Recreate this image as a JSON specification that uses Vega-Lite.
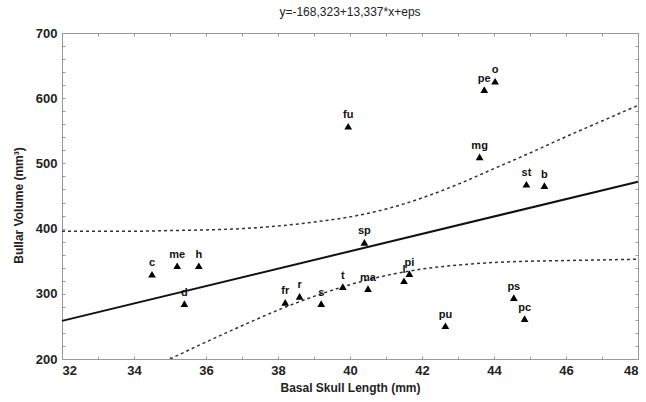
{
  "$schema": "https://vega.github.io/schema/vega-lite/v6.json",
  "width": 576,
  "height": 326,
  "autosize": {"type": "none"},
  "padding": {"left": 62, "top": 33, "right": 8, "bottom": 43},
  "background": "white",
  "title": {"text": "y=-168,323+13,337*x+eps", "fontSize": 12, "fontWeight": "normal", "font": "Liberation Sans", "color": "#222", "offset": 8, "anchor": "middle"},
  "config": {
    "view": {"stroke": "#999999", "strokeWidth": 1},
    "axis": {"grid": false, "domainColor": "#999999", "tickColor": "#999999", "tickWidth": 1, "labelFont": "Liberation Sans", "labelFontWeight": "bold", "labelColor": "#222", "titleFont": "Liberation Sans", "titleFontWeight": "bold", "titleColor": "#222"}
  },
  "datasets": {
    "pts": [
      {"sp": "c", "x": 34.5, "y": 330},
      {"sp": "me", "x": 35.2, "y": 343},
      {"sp": "h", "x": 35.8, "y": 343},
      {"sp": "d", "x": 35.4, "y": 285},
      {"sp": "fr", "x": 38.2, "y": 287},
      {"sp": "r", "x": 38.6, "y": 296},
      {"sp": "s", "x": 39.2, "y": 285},
      {"sp": "t", "x": 39.8, "y": 311},
      {"sp": "ma", "x": 40.5, "y": 308},
      {"sp": "l", "x": 41.5, "y": 320},
      {"sp": "pi", "x": 41.65, "y": 331},
      {"sp": "pu", "x": 42.65, "y": 251},
      {"sp": "ps", "x": 44.55, "y": 294},
      {"sp": "pc", "x": 44.85, "y": 262},
      {"sp": "sp", "x": 40.4, "y": 379},
      {"sp": "fu", "x": 39.95, "y": 557},
      {"sp": "mg", "x": 43.6, "y": 510},
      {"sp": "st", "x": 44.9, "y": 468},
      {"sp": "b", "x": 45.4, "y": 466},
      {"sp": "pe", "x": 43.73, "y": 613},
      {"sp": "o", "x": 44.03, "y": 626}
    ],
    "fit": [
      {"x": 32, "y": 258.5},
      {"x": 48, "y": 471.9}
    ],
    "band": [
      {"x": 32, "bound": "upper", "y": 396},
      {"x": 33, "bound": "upper", "y": 396},
      {"x": 34, "bound": "upper", "y": 396},
      {"x": 35, "bound": "upper", "y": 397},
      {"x": 36, "bound": "upper", "y": 398},
      {"x": 37, "bound": "upper", "y": 400},
      {"x": 38, "bound": "upper", "y": 404},
      {"x": 39, "bound": "upper", "y": 410},
      {"x": 40, "bound": "upper", "y": 418},
      {"x": 41, "bound": "upper", "y": 430},
      {"x": 42, "bound": "upper", "y": 447},
      {"x": 43, "bound": "upper", "y": 468},
      {"x": 44, "bound": "upper", "y": 492},
      {"x": 45, "bound": "upper", "y": 516},
      {"x": 46, "bound": "upper", "y": 541},
      {"x": 47, "bound": "upper", "y": 565},
      {"x": 48, "bound": "upper", "y": 589},
      {"x": 35, "bound": "lower", "y": 200},
      {"x": 36, "bound": "lower", "y": 226},
      {"x": 37, "bound": "lower", "y": 251},
      {"x": 38, "bound": "lower", "y": 275},
      {"x": 39, "bound": "lower", "y": 296},
      {"x": 40, "bound": "lower", "y": 314},
      {"x": 41, "bound": "lower", "y": 328},
      {"x": 42, "bound": "lower", "y": 338},
      {"x": 43, "bound": "lower", "y": 344},
      {"x": 44, "bound": "lower", "y": 348},
      {"x": 45, "bound": "lower", "y": 350},
      {"x": 46, "bound": "lower", "y": 351},
      {"x": 47, "bound": "lower", "y": 352},
      {"x": 48, "bound": "lower", "y": 353}
    ]
  },
  "layer": [
    {
      "data": {"name": "band"},
      "mark": {"type": "line", "color": "#333", "strokeWidth": 1.5, "strokeDash": [3, 3], "interpolate": "monotone", "clip": true},
      "encoding": {
        "x": {"field": "x", "type": "quantitative", "scale": {"domain": [32, 48], "nice": false, "zero": false},
          "axis": {"orient": "bottom", "values": [32,33,34,35,36,37,38,39,40,41,42,43,44,45,46,47,48], "labelExpr": "datum.value % 2 == 0 ? datum.label : ''", "tickSize": -3, "labelPadding": 8, "labelFontSize": 13, "title": "Basal Skull Length (mm)", "titleFontSize": 12, "titlePadding": 5}},
        "y": {"field": "y", "type": "quantitative", "scale": {"domain": [200, 700], "nice": false, "zero": false},
          "axis": {"orient": "left", "values": [200,220,240,260,280,300,320,340,360,380,400,420,440,460,480,500,520,540,560,580,600,620,640,660,680,700], "labelExpr": "datum.value % 100 == 0 ? datum.label : ''", "tickSize": -3, "labelPadding": 8, "labelFontSize": 13, "title": "Bullar Volume (mm³)", "titleFontSize": 12, "titlePadding": 10, "titleY": 172}},
        "detail": {"field": "bound"}
      }
    },
    {
      "data": {"name": "fit"},
      "mark": {"type": "line", "color": "#111", "strokeWidth": 2},
      "encoding": {
        "x": {"field": "x", "type": "quantitative",
          "axis": {"orient": "top", "values": [32,33,34,35,36,37,38,39,40,41,42,43,44,45,46,47,48], "labels": false, "tickSize": -3, "title": null}},
        "y": {"field": "y", "type": "quantitative",
          "axis": {"orient": "right", "values": [200,220,240,260,280,300,320,340,360,380,400,420,440,460,480,500,520,540,560,580,600,620,640,660,680,700], "labels": false, "tickSize": -3, "title": null}}
      }
    },
    {
      "data": {"name": "pts"},
      "mark": {"type": "point", "shape": "triangle-up", "filled": true, "color": "#000", "opacity": 1, "size": 60},
      "encoding": {
        "x": {"field": "x", "type": "quantitative", "axis": null},
        "y": {"field": "y", "type": "quantitative", "axis": null}
      }
    },
    {
      "data": {"name": "pts"},
      "mark": {"type": "text", "font": "Liberation Sans", "fontWeight": "bold", "fontSize": 11, "color": "#111", "dy": -6, "baseline": "bottom"},
      "encoding": {
        "x": {"field": "x", "type": "quantitative", "axis": null},
        "y": {"field": "y", "type": "quantitative", "axis": null},
        "text": {"field": "sp"}
      }
    }
  ],
  "resolve": {"axis": {"x": "independent", "y": "independent"}}
}
